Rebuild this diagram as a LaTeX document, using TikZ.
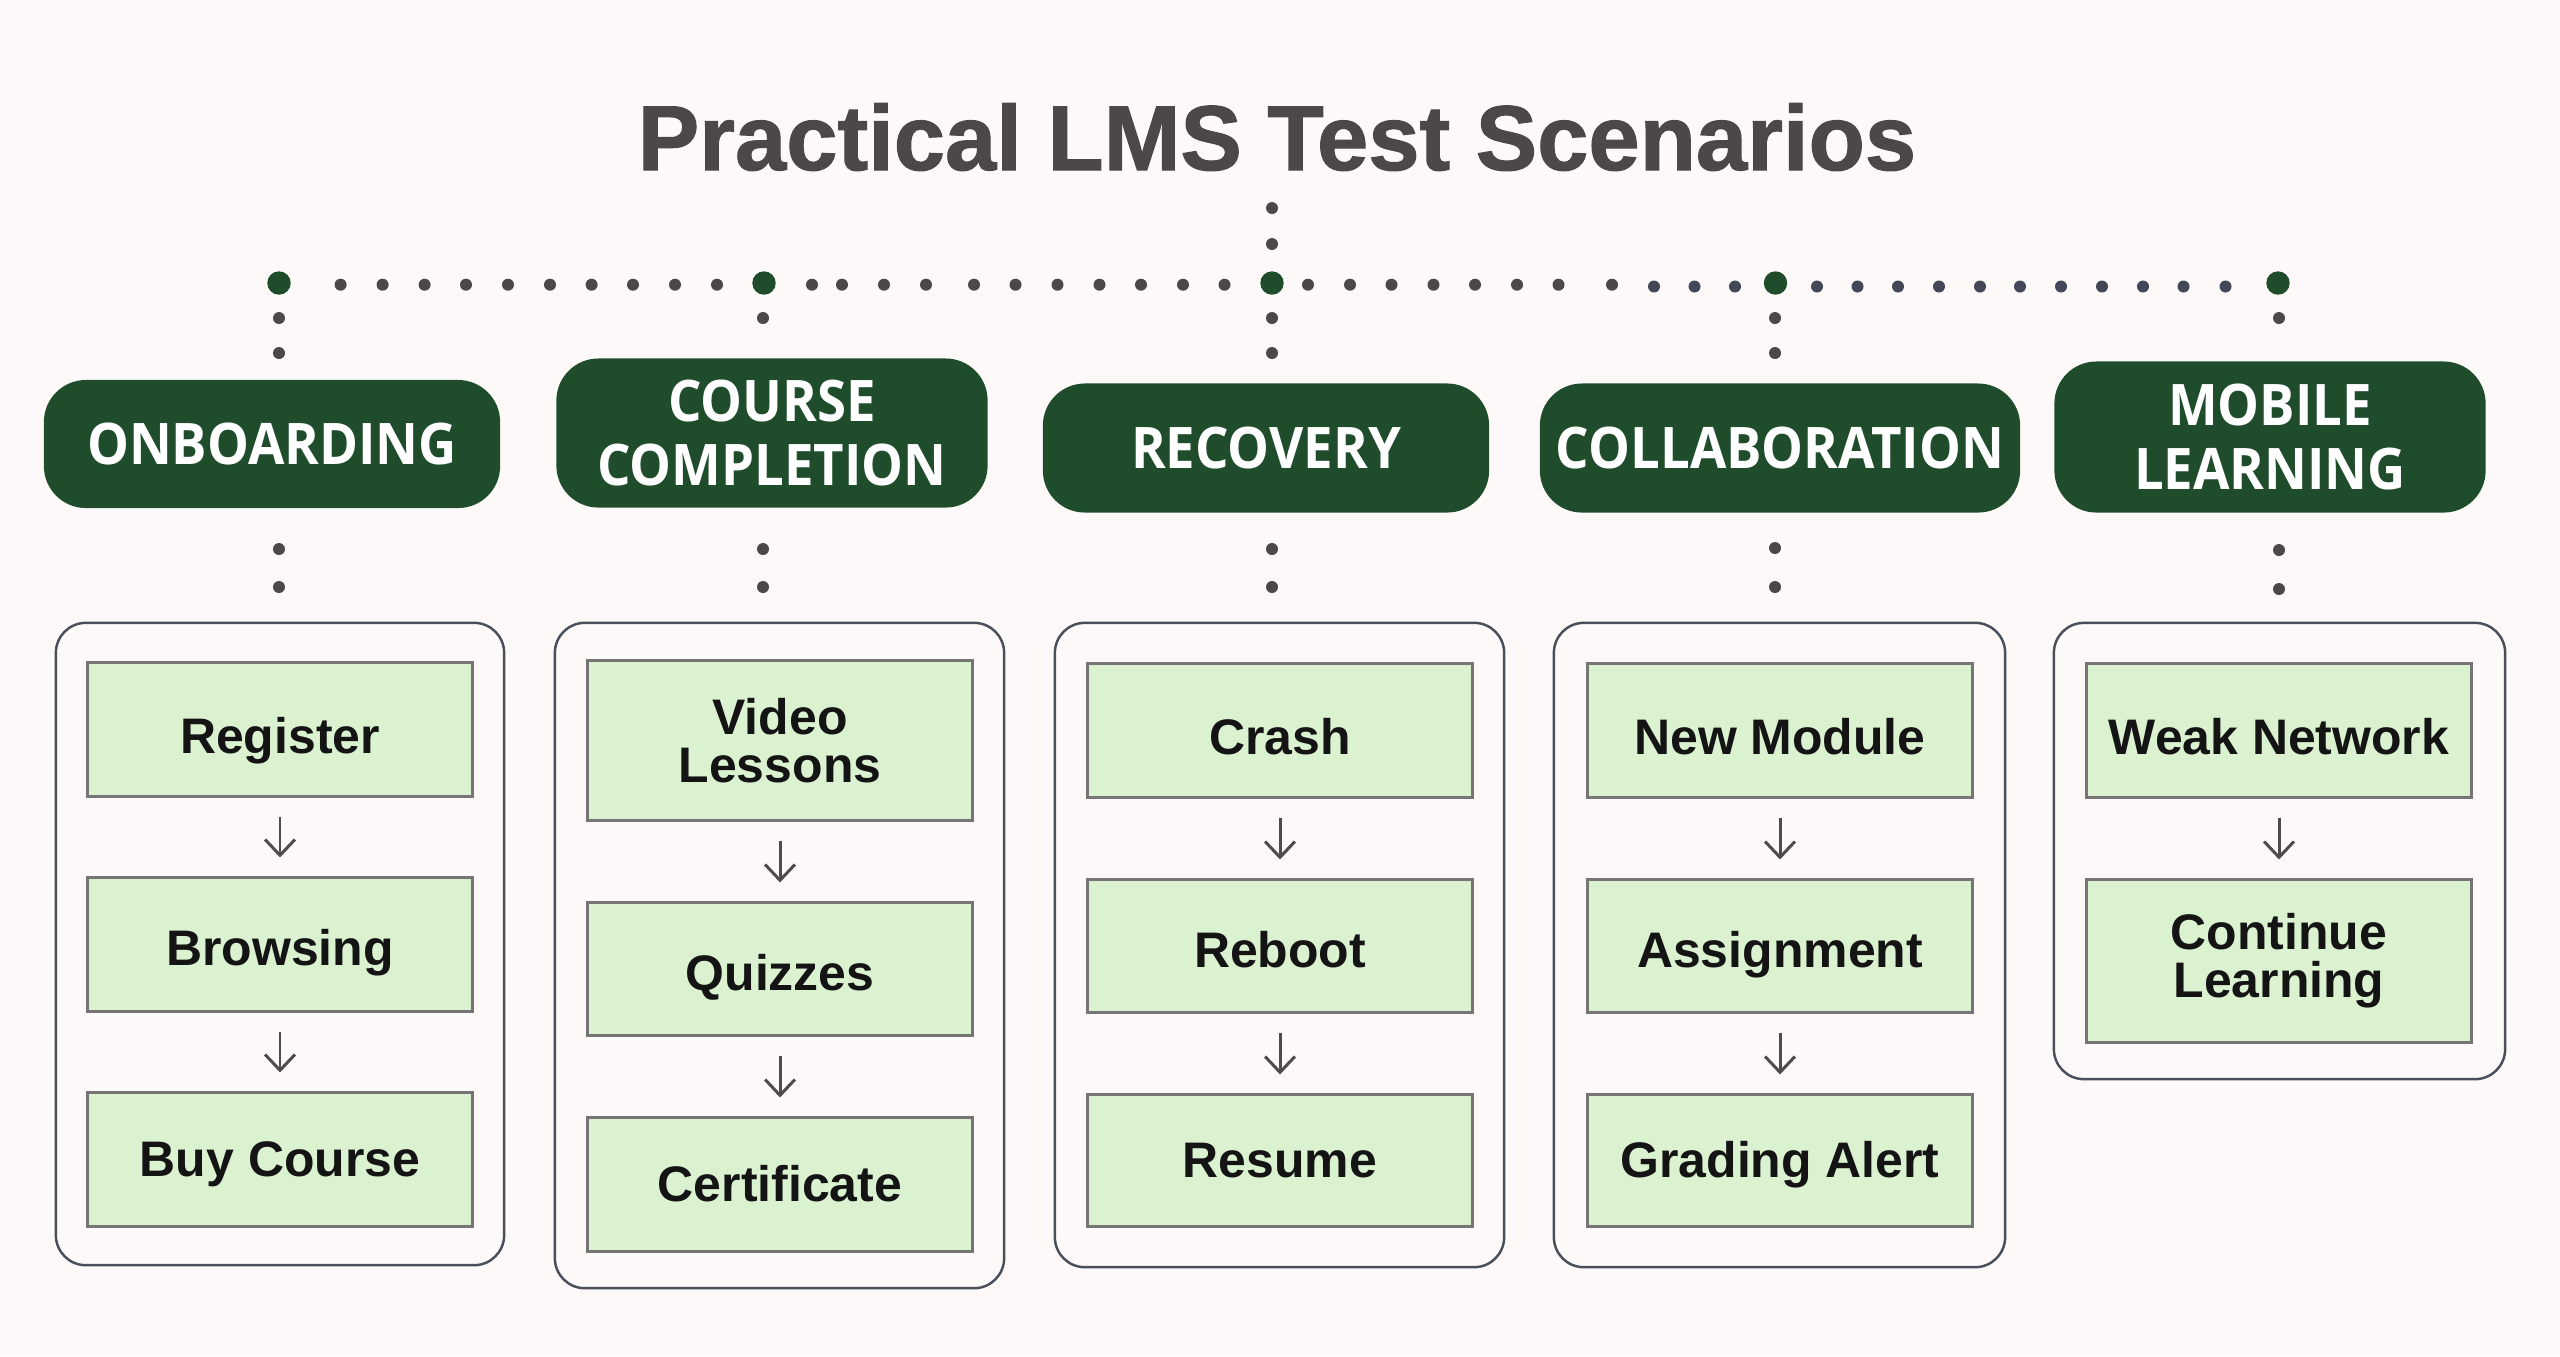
\documentclass[tikz,border=0pt]{standalone}
\usepackage{fontspec}
\setmainfont{Liberation Sans}
\newfontfamily\hdrfont{Open Sans}[FakeStretch=0.92]
\newfontfamily\ttlfont{Liberation Sans}[BoldFeatures={FakeBold=1.2}]
\usetikzlibrary{arrows.meta}
\definecolor{bgc}{HTML}{FCF9F8}
\definecolor{hdrgreen}{HTML}{1F4D2C}
\definecolor{dotgray}{HTML}{4D4848}
\definecolor{dotblue}{HTML}{434858}
\definecolor{infill}{HTML}{DBF2D1}
\definecolor{inborder}{HTML}{767474}
\definecolor{contborder}{HTML}{4A4F5C}
\definecolor{arrowgray}{HTML}{4E4B4B}
\definecolor{titlegray}{HTML}{4D4847}
\begin{document}
\begin{tikzpicture}[x=0.01cm,y=-0.01cm,
  hdr/.style={fill=hdrgreen, rounded corners=0.42cm, text=white,
    font=\hdrfont\bfseries\fontsize{16.3}{18.2}\selectfont, align=center, inner sep=0pt},
  cont/.style={draw=contborder, line width=0.7pt, rounded corners=0.3cm, inner sep=0pt},
  inbox/.style={draw=inborder, fill=infill, line width=0.85pt, minimum width=3.84cm,
    font=\bfseries\fontsize{14.2}{13.6}\selectfont, text=black!92, align=center, inner sep=0pt},
  rowa/.style={text height=0.474cm, text depth=0pt},
  rowb/.style={text height=0.42cm, text depth=0pt},
  rowc/.style={text height=0.34cm, text depth=0pt},
  flow/.style={draw=arrowgray, line width=0.85pt, -{Straight Barb[length=4.5pt,width=8.5pt]},
    shorten >=0.19cm, shorten <=0.19cm},
  bigdot/.style={circle, fill=hdrgreen, minimum size=0.234cm, inner sep=0pt}
]
\fill[bgc] (0,0) rectangle (2560,1356);
\useasboundingbox (0,0) rectangle (2560,1356);

% title
\node[anchor=base, font=\ttlfont\bfseries\fontsize{26.2}{30}\selectfont, text=titlegray] (title) at (1277,170) {Practical LMS Test Scenarios};

% small dots of the dotted connector lines
\foreach \x in {340.6,382.6,424.6,466,508,550,591.6,633,675,717,
                812,842,884,926,974,1015.5,1057.5,1099.5,1141,1183,1224.5,
                1308,1350,1391.5,1433.5,1475,1517,1558.5,1612}
  \fill[dotgray] (\x,284.7) circle (0.06cm);
\foreach \x in {1654,1694.5,1735,
                1817,1857.5,1898,1939,1980,2020,2061,2102,2143,2183.5,2225.5}
  \fill[dotblue] (\x,286.5) circle (0.06cm);
\foreach \p in {(1272,208),(1272,244),
                (279,318),(279,353),(763,318),(1272,318),(1272,353),(1775,318),(1775,353),(2279,318),
                (279,549),(279,587),(763,549),(763,587),(1272,549),(1272,587),
                (1775,548),(1775,587),(2279,550),(2279,589)}
  \fill[dotgray] \p circle (0.06cm);

% junction dots
\node[bigdot] (b1) at (279,283) {};
\node[bigdot] (b2) at (764,283) {};
\node[bigdot] (b3) at (1272,283) {};
\node[bigdot] (b4) at (1775.5,283) {};
\node[bigdot] (b5) at (2278,283) {};

% headers
\node[hdr, minimum width=4.56cm, minimum height=1.28cm] (h1) at (272,444) {ONBOARDING};
\node[hdr, minimum width=4.31cm, minimum height=1.49cm] (h2) at (772,433) {COURSE\\COMPLETION};
\node[hdr, minimum width=4.46cm, minimum height=1.29cm] (h3) at (1266,448) {RECOVERY};
\node[hdr, minimum width=4.80cm, minimum height=1.29cm] (h4) at (1780,448) {COLLABORATION};
\node[hdr, minimum width=4.31cm, minimum height=1.51cm] (h5) at (2270,437) {MOBILE\\LEARNING};

% containers
\node[cont, minimum width=4.48cm, minimum height=6.42cm] (k1) at (280,944) {};
\node[cont, minimum width=4.49cm, minimum height=6.65cm] (k2) at (779.5,955.5) {};
\node[cont, minimum width=4.49cm, minimum height=6.44cm] (k3) at (1279.5,945) {};
\node[cont, minimum width=4.51cm, minimum height=6.44cm] (k4) at (1779.5,945) {};
\node[cont, minimum width=4.51cm, minimum height=4.56cm] (k5) at (2279.5,851) {};

% column 1
\node[inbox, rowa, minimum height=1.33cm] (r1) at (280,729.5) {Register};
\node[inbox, rowb, minimum height=1.33cm] (r2) at (280,944.5) {Browsing};
\node[inbox, rowc, minimum height=1.33cm] (r3) at (280,1159.5) {Buy Course};
% column 2
\node[inbox, minimum height=1.59cm] (v1) at (780,740.5) {Video\\Lessons};
\node[inbox, rowb, minimum height=1.32cm] (v2) at (780,969) {Quizzes};
\node[inbox, rowc, minimum height=1.33cm] (v3) at (780,1184.5) {Certificate};
% column 3
\node[inbox, rowa, minimum height=1.33cm] (c1) at (1280,730.5) {Crash};
\node[inbox, rowb, minimum height=1.32cm] (c2) at (1280,946) {Reboot};
\node[inbox, rowc, minimum height=1.31cm] (c3) at (1280,1160.5) {Resume};
% column 4
\node[inbox, rowa, minimum height=1.33cm] (n1) at (1780,730.5) {New Module};
\node[inbox, rowb, minimum height=1.32cm] (n2) at (1780,946) {Assignment};
\node[inbox, rowc, minimum height=1.31cm] (n3) at (1780,1160.5) {Grading Alert};
% column 5
\node[inbox, rowa, minimum height=1.33cm] (w1) at (2279,730.5) {Weak Network};
\node[inbox, minimum height=1.62cm] (w2) at (2279,961) {Continue\\Learning};

% arrows
\draw[flow] (r1) -- (r2);
\draw[flow] (r2) -- (r3);
\draw[flow] (v1) -- (v2);
\draw[flow] (v2) -- (v3);
\draw[flow] (c1) -- (c2);
\draw[flow] (c2) -- (c3);
\draw[flow] (n1) -- (n2);
\draw[flow] (n2) -- (n3);
\draw[flow] (w1) -- (w2);
\end{tikzpicture}
\end{document}
